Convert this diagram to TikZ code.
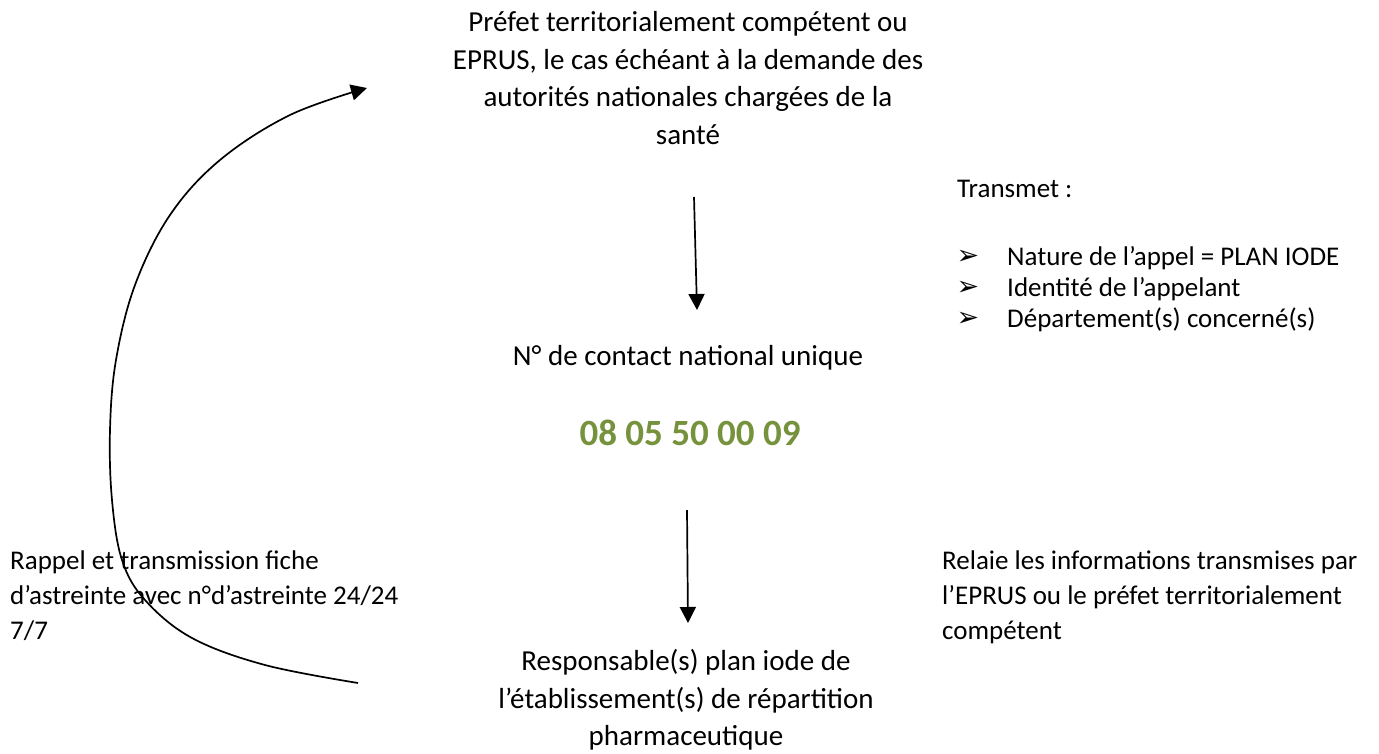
\documentclass[tikz,border=0pt]{standalone}
\usepackage{fontspec}
\setmainfont{Carlito}
\newfontfamily\symfont{DejaVu Sans}
\usetikzlibrary{arrows.meta}
\definecolor{olive}{HTML}{76923C}
\tikzset{
  txt/.style={inner sep=0pt, font=\fontsize{29}{37.5}\selectfont},
  sidetxt/.style={inner sep=0pt, font=\fontsize{27}{35}\selectfont, align=left, anchor=north west},
  bul/.style={inner sep=0pt, font=\symfont\fontsize{27}{27}\selectfont},
  conn/.style={line width=1.7pt, -{Triangle[width=16pt,length=16pt]}},
}
\begin{document}
\begin{tikzpicture}[x=1pt,y=-1pt]
\useasboundingbox (0,0) rectangle (1379,753);
\node[txt, align=center] (top) at (688,78) {Préfet territorialement compétent ou\\EPRUS, le cas échéant à la demande des\\autorités nationales chargées de la\\santé};
\node[txt] (num) at (688,358) {N° de contact national unique};
\node[txt, font=\fontsize{37}{42}\selectfont\bfseries, text=olive] (phone) at (690,433) {08 05 50 00 09};
\node[txt, align=center] (bottom) at (686,700) {Responsable(s) plan iode de\\l’établissement(s) de répartition\\pharmaceutique};
\node[sidetxt] (left) at (10,551) {Rappel et transmission fiche\\d’astreinte avec n°d’astreinte 24/24\\7/7};
\node[sidetxt] (right) at (942,551) {Relaie les informations transmises par\\l’EPRUS ou le préfet territorialement\\compétent};
\node[sidetxt] (transmet) at (957,180) {Transmet :};
\node[bul] (b1) at (968,257) {➢};
\node[bul] (b2) at (968,288) {➢};
\node[bul] (b3) at (968,319) {➢};
\node[sidetxt, anchor=west] (l1) at (1007,258) {Nature de l’appel = PLAN IODE};
\node[sidetxt, anchor=west] (l2) at (1007,289) {Identité de l’appelant};
\node[sidetxt, anchor=west] (l3) at (1007,320) {Département(s) concerné(s)};
\coordinate (a1s) at (694,197);
\coordinate (a1e) at (697,310);
\coordinate (a2s) at (687,510);
\coordinate (a2e) at (688,623);
\draw[conn] (a1s) -- (a1e);
\draw[conn] (a2s) -- (a2e);
\coordinate (cs) at (358,683);
\coordinate (ce) at (367,88);
\draw[conn] plot[smooth, tension=0.6] coordinates {(cs) (265,665) (192,638) (145,600) (122,560) (112,500) (110,430) (116,360) (135,285) (170,215) (220,160) (290,115) (ce)};
\end{tikzpicture}
\end{document}
